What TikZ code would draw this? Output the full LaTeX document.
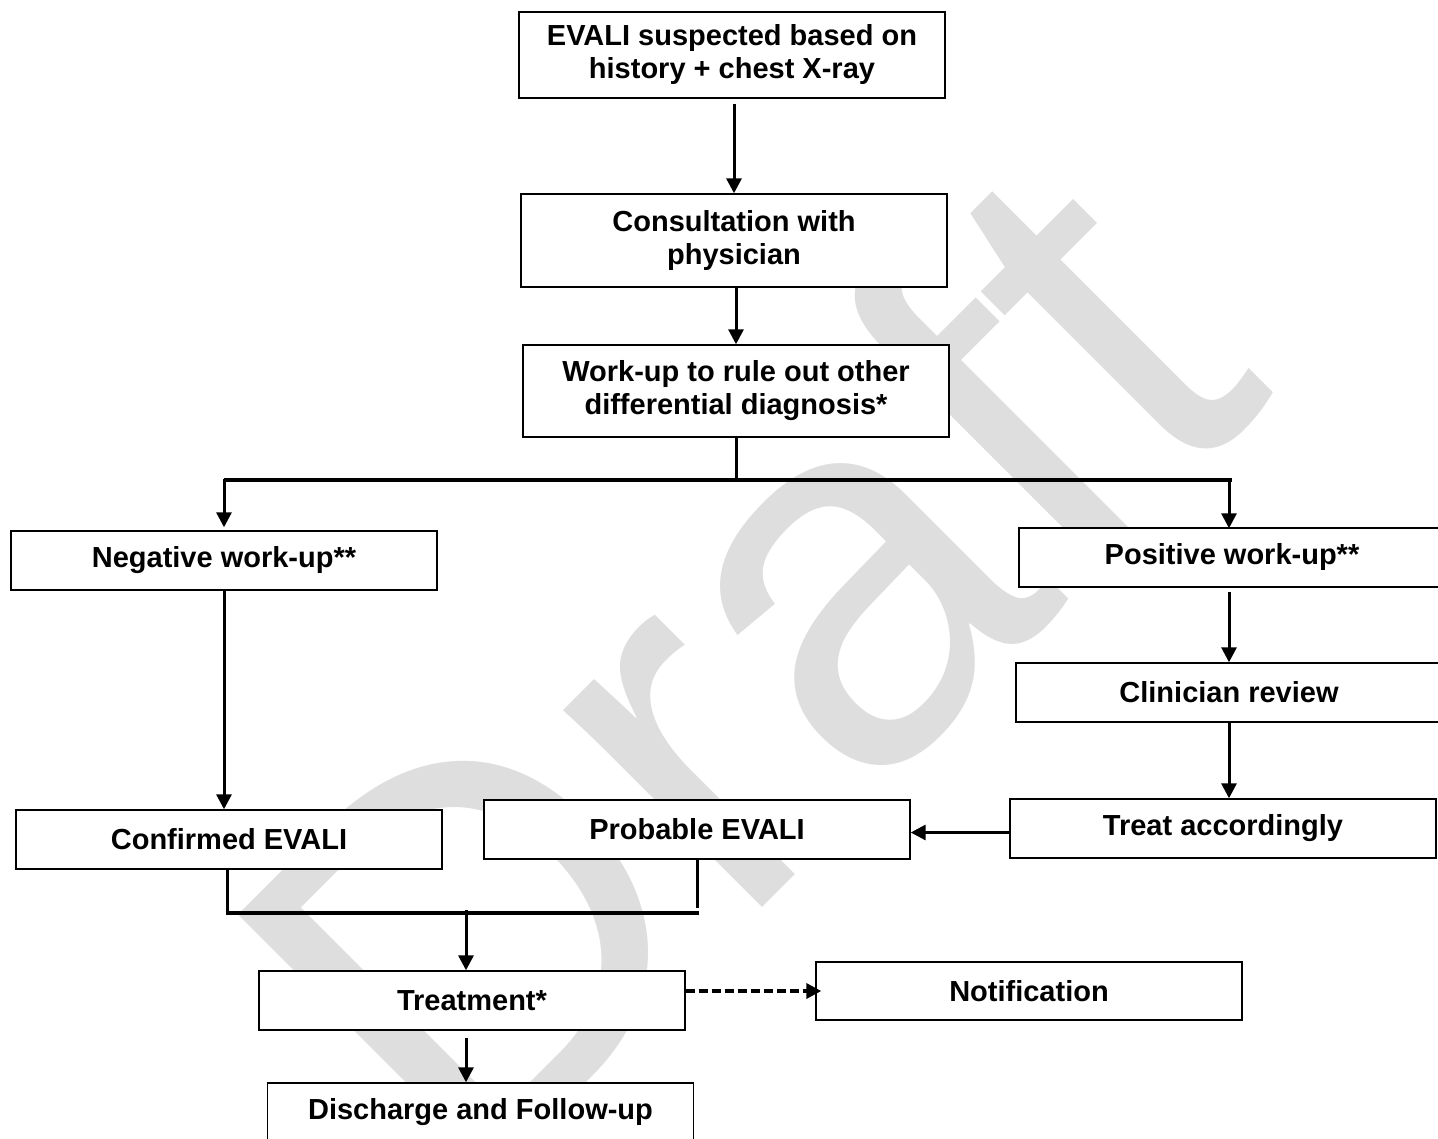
\documentclass[tikz,border=0pt]{standalone}
\usepackage{fontspec}
\setmainfont{Liberation Sans}
\newfontfamily\wmfont{Liberation Sans}
\usetikzlibrary{arrows.meta,calc}
\definecolor{wmgray}{RGB}{222,222,222}
\begin{document}
\begin{tikzpicture}[x=1pt,y=-1pt,
  box/.style={draw=black, line width=1.4pt, fill=white, minimum width=426pt,
    inner sep=0pt, align=center, font=\fontsize{29}{33}\selectfont\bfseries},
  conn/.style={line width=3pt},
  thickconn/.style={line width=4pt},
  arr/.style={conn, -{Triangle[length=15pt,width=15pt]}},
  dasharr/.style={arr, line width=3.5pt, dash pattern=on 9pt off 4pt},
  wmark/.style={text=wmgray, inner sep=0pt, rotate=45,
    font=\fontsize{530}{530}\selectfont\wmfont}]
\useasboundingbox (0,0) rectangle (1438,1139);
\fill[white] (0,0) rectangle (1438,1139);
% watermark
\node[wmark] (wm) at (738,664) {Draft};
% boxes
\node[box, minimum height=86pt] (b1) at (732,55) {EVALI suspected based on\\history + chest X-ray};
\node[box, minimum height=93pt] (b2) at (734,240.5) {Consultation with\\physician};
\node[box, minimum height=92pt] (b3) at (736,391) {Work-up to rule out other\\differential diagnosis*};
\node[box, minimum height=59pt] (neg) at (224,560.5) {Negative work-up**};
\node[box, minimum height=59pt] (pos) at (1232,557.5) {Positive work-up**};
\node[box, minimum height=59pt] (clin) at (1229,692.5) {Clinician review};
\node[box, minimum height=59pt] (treat) at (1223,828.5) {Treat accordingly};
\node[box, minimum height=59pt] (prob) at (697,829.5) {Probable EVALI};
\node[box, minimum height=59pt] (conf) at (229,839.5) {Confirmed EVALI};
\node[box, minimum height=59pt] (tr) at (472,1000.5) {Treatment*};
\node[box, minimum height=58pt] (notif) at (1029,991) {Notification};
\node[box, minimum height=59pt] (disch) at (480.5,1112.5) {Discharge and Follow-up};
% coordinates
\coordinate (split) at (736,480);
\coordinate (ml) at (227,913);
\coordinate (mr) at (699,913);
\coordinate (mid) at (466,913);
% connectors
\draw[arr] ([yshift=-5pt]b1.south -| b2.north) -- (b2.north);
\draw[arr] (b2.south -| b3.north) -- (b3.north);
\draw[conn] (b3.south) -- (split);
\draw[thickconn] (split -| neg.north) -- (split -| pos.north);
\draw[arr] ([yshift=1pt]split -| neg.north) -- ([yshift=3pt]neg.north);
\draw[arr] ([xshift=-3pt,yshift=1pt]split -| pos.north) -- ([xshift=-3pt,yshift=-1pt]pos.north);
\draw[arr] (neg.south) -- (neg.south |- conf.north);
\draw[arr] ([yshift=-4pt]clin.north |- pos.south) -- (clin.north);
\draw[arr] (clin.south) -- (clin.south |- treat.north);
\draw[arr] ([yshift=-4pt]treat.west) -- ([yshift=-4pt]treat.west -| prob.east);
\draw[conn] (conf.south -| ml) -- (ml);
\draw[thickconn] ([xshift=-1.5pt]ml) -- (mr);
\draw[conn] (prob.south) -- ([yshift=5pt]prob.south |- mr);
\draw[arr] ([yshift=3pt]mid) -- (mid |- tr.north);
\draw[dasharr] (tr.east |- notif.west) -- ([xshift=6pt]notif.west);
\draw[arr] ([yshift=-7pt]tr.south -| mid) -- (mid |- disch.north);
\end{tikzpicture}
\end{document}
